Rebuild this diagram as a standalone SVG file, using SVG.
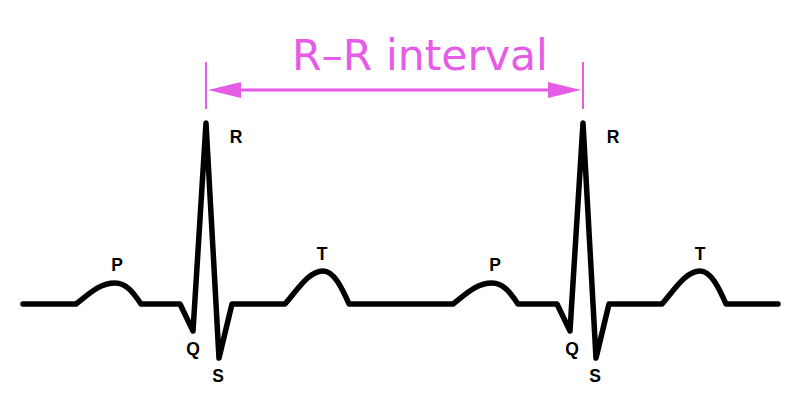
<svg xmlns="http://www.w3.org/2000/svg" width="800" height="404" viewBox="0 0 800 404">
<style>
.ecg{fill:none;stroke:#000;stroke-width:5.5;stroke-linejoin:round;stroke-linecap:round}
.lbl{font-family:"Liberation Sans",Arial,sans-serif;font-weight:bold;font-size:17.5px;fill:#000;text-anchor:middle}
.mg{stroke:#e55ce6;fill:none}
.title{font-family:"DejaVu Sans",sans-serif;font-size:42.5px;fill:#e55ce6;text-anchor:middle}
</style>
<rect width="800" height="404" fill="#fff"/>
<g id="connectors">
<path id="trace" class="ecg" d="M23,304 L76,304 C90,293 100,283 115,283 C126,283 133,292 141,304 L180,304 L193,331 L206,123 L219,358 L232,304 L285,304 C298,289 309,271 323,271 C334,271 342,288 349,304 L453,304 C467,293 477,283 492,283 C503,283 510,292 518,304 L557,304 L570,331 L583,123 L596,358 L609,304 L662,304 C675,289 686,271 700,271 C711,271 719,288 726,304 L778,304"/>
<line class="mg" x1="206" y1="62" x2="206" y2="109" stroke-width="2"/>
<line class="mg" x1="583" y1="62" x2="583" y2="109" stroke-width="2"/>
<line class="mg" x1="238" y1="90" x2="551" y2="90" stroke-width="3"/>
<polygon points="208,90 241,82 241,98" fill="#e55ce6"/>
<polygon points="581,90 548,82 548,98" fill="#e55ce6"/>
</g>
<g id="title"><text class="title" x="420" y="70">R–R interval</text></g>
<g id="P1"><text class="lbl" x="117" y="271">P</text></g>
<g id="Q1"><text class="lbl" x="193" y="355">Q</text></g>
<g id="R1"><text class="lbl" x="236" y="143">R</text></g>
<g id="S1"><text class="lbl" x="218" y="382">S</text></g>
<g id="T1"><text class="lbl" x="322" y="260">T</text></g>
<g id="P2"><text class="lbl" x="495" y="271">P</text></g>
<g id="Q2"><text class="lbl" x="572" y="355">Q</text></g>
<g id="R2"><text class="lbl" x="613" y="143">R</text></g>
<g id="S2"><text class="lbl" x="595" y="382">S</text></g>
<g id="T2"><text class="lbl" x="700" y="260">T</text></g>
</svg>
